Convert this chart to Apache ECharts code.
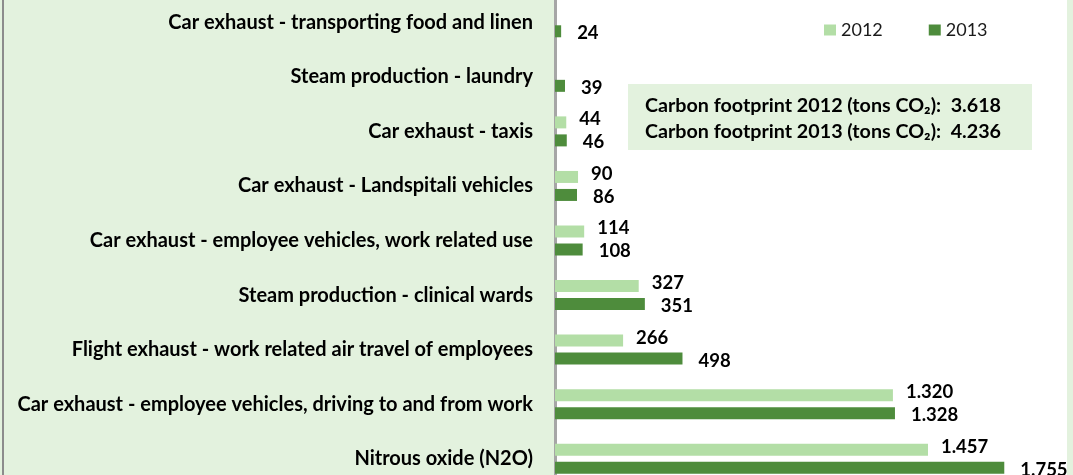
<!DOCTYPE html>
<html><head><meta charset="utf-8">
<script src="https://cdn.jsdelivr.net/npm/echarts@6/dist/echarts.min.js"></script>
<style>html,body{margin:0;padding:0;background:#e3f2de}#c{width:1073px;height:475px}</style>
</head><body><div id="c"></div>
<script>
const categories = [
  'Car exhaust - transporting food and linen',
  'Steam production - laundry',
  'Car exhaust - taxis',
  'Car exhaust - Landspitali vehicles',
  'Car exhaust - employee vehicles, work related use',
  'Steam production - clinical wards',
  'Flight exhaust - work related air travel of employees',
  'Car exhaust - employee vehicles, driving to and from work',
  'Nitrous oxide (N2O)'
];
const values2012 = [null, null, 44, 90, 114, 327, 266, 1320, 1457];
const values2013 = [24, 39, 46, 86, 108, 351, 498, 1328, 1755];
const footprintLines = [
  'Carbon footprint 2012 (tons CO\u2082):  3.618',
  'Carbon footprint 2013 (tons CO\u2082):  4.236'
];

const FONT = 'Lato';
function fmt(v){ return String(v).replace(/\B(?=(\d{3})+(?!\d))/g, '.'); }

const chart = echarts.init(document.getElementById('c'));
chart.setOption({
  backgroundColor: '#e3f2de',
  animation: false,
  textStyle: {fontFamily: FONT},
  grid: {left: 555, width: 512, top: -5, height: 491, show: true, backgroundColor: '#ffffff', borderWidth: 0,
         containLabel: false, outerBoundsMode: 'none'},
  legend: {
    top: 16, left: 819, itemWidth: 12, itemHeight: 11, itemGap: 46,
    icon: 'rect',
    textStyle: {fontFamily: FONT, fontSize: 18, color: '#1a1a1a'},
    data: ['2012', '2013']
  },
  xAxis: {type: 'value', min: 0, max: 2000, show: false},
  yAxis: {
    type: 'category', inverse: true, data: categories,
    axisLine: {show: true, lineStyle: {color: '#a6a6a6', width: 3}},
    axisTick: {show: false},
    axisLabel: {fontFamily: FONT, fontWeight: 'bold', fontSize: 20, color: '#000', margin: 22}
  },
  series: [
    {name: '2012', type: 'bar', data: values2012, barWidth: 12, barGap: '50%',
     itemStyle: {color: '#b3dea6'},
     label: {show: true, position: 'right', distance: 13, offset: [0, -3], formatter: p => fmt(p.value),
             fontFamily: FONT, fontWeight: 'bold', fontSize: 18.5, color: '#000'}},
    {name: '2013', type: 'bar', data: values2013, barWidth: 12, barGap: '50%',
     itemStyle: {color: '#4e8c3c'},
     label: {show: true, position: 'right', distance: 16, offset: [0, 2], formatter: p => fmt(p.value),
             fontFamily: FONT, fontWeight: 'bold', fontSize: 18.5, color: '#000'}}
  ],
  graphic: [
    {type: 'rect', left: 2, top: 0, shape: {width: 2, height: 475}, style: {fill: '#8c8c8c'}, silent: true},
    {type: 'rect', left: 628, top: 84, shape: {width: 404, height: 66}, style: {fill: '#e3f2de'}, z: 10},
    {type: 'text', left: 645, top: 96, z: 11, style: {text: footprintLines[0], font: 'bold 19.7px ' + FONT, fill: '#000'}},
    {type: 'text', left: 645, top: 122, z: 11, style: {text: footprintLines[1], font: 'bold 19.7px ' + FONT, fill: '#000'}}
  ]
});
</script></body></html>
